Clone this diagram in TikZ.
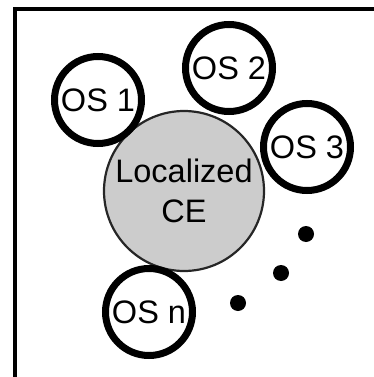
\documentclass[tikz,border=0pt]{standalone}
\usepackage{fontspec}
\setmainfont{Liberation Sans}
\begin{document}
\begin{tikzpicture}[x=1pt,y=-1pt,
  os/.style={circle,draw=black,line width=7pt,fill=white,minimum size=87pt,inner sep=0pt,font=\fontsize{32.5}{34}\selectfont},
  ce/.style={circle,draw=black!85,line width=2.2pt,fill=black!20,minimum size=160pt,inner sep=0pt,align=center,font=\fontsize{32.5}{40}\selectfont},
  dotmark/.style={circle,fill=black,minimum size=16pt,inner sep=0pt}]
\useasboundingbox (0,0) rectangle (374,377);
\draw[line width=3.8pt] (15,400) -- (15,9) -- (400,9);
\node[ce] (ce) at (184,191) {Localized\\CE};
\node[os] (os1) at (98,100) {OS 1};
\node[os] (os2) at (229,68) {OS 2};
\node[os] (os3) at (307,147) {OS 3};
\node[os] (osn) at (149,312) {OS n};
\node[dotmark] (d1) at (306,234) {};
\node[dotmark] (d2) at (281,273) {};
\node[dotmark] (d3) at (238,303) {};
\end{tikzpicture}
\end{document}
